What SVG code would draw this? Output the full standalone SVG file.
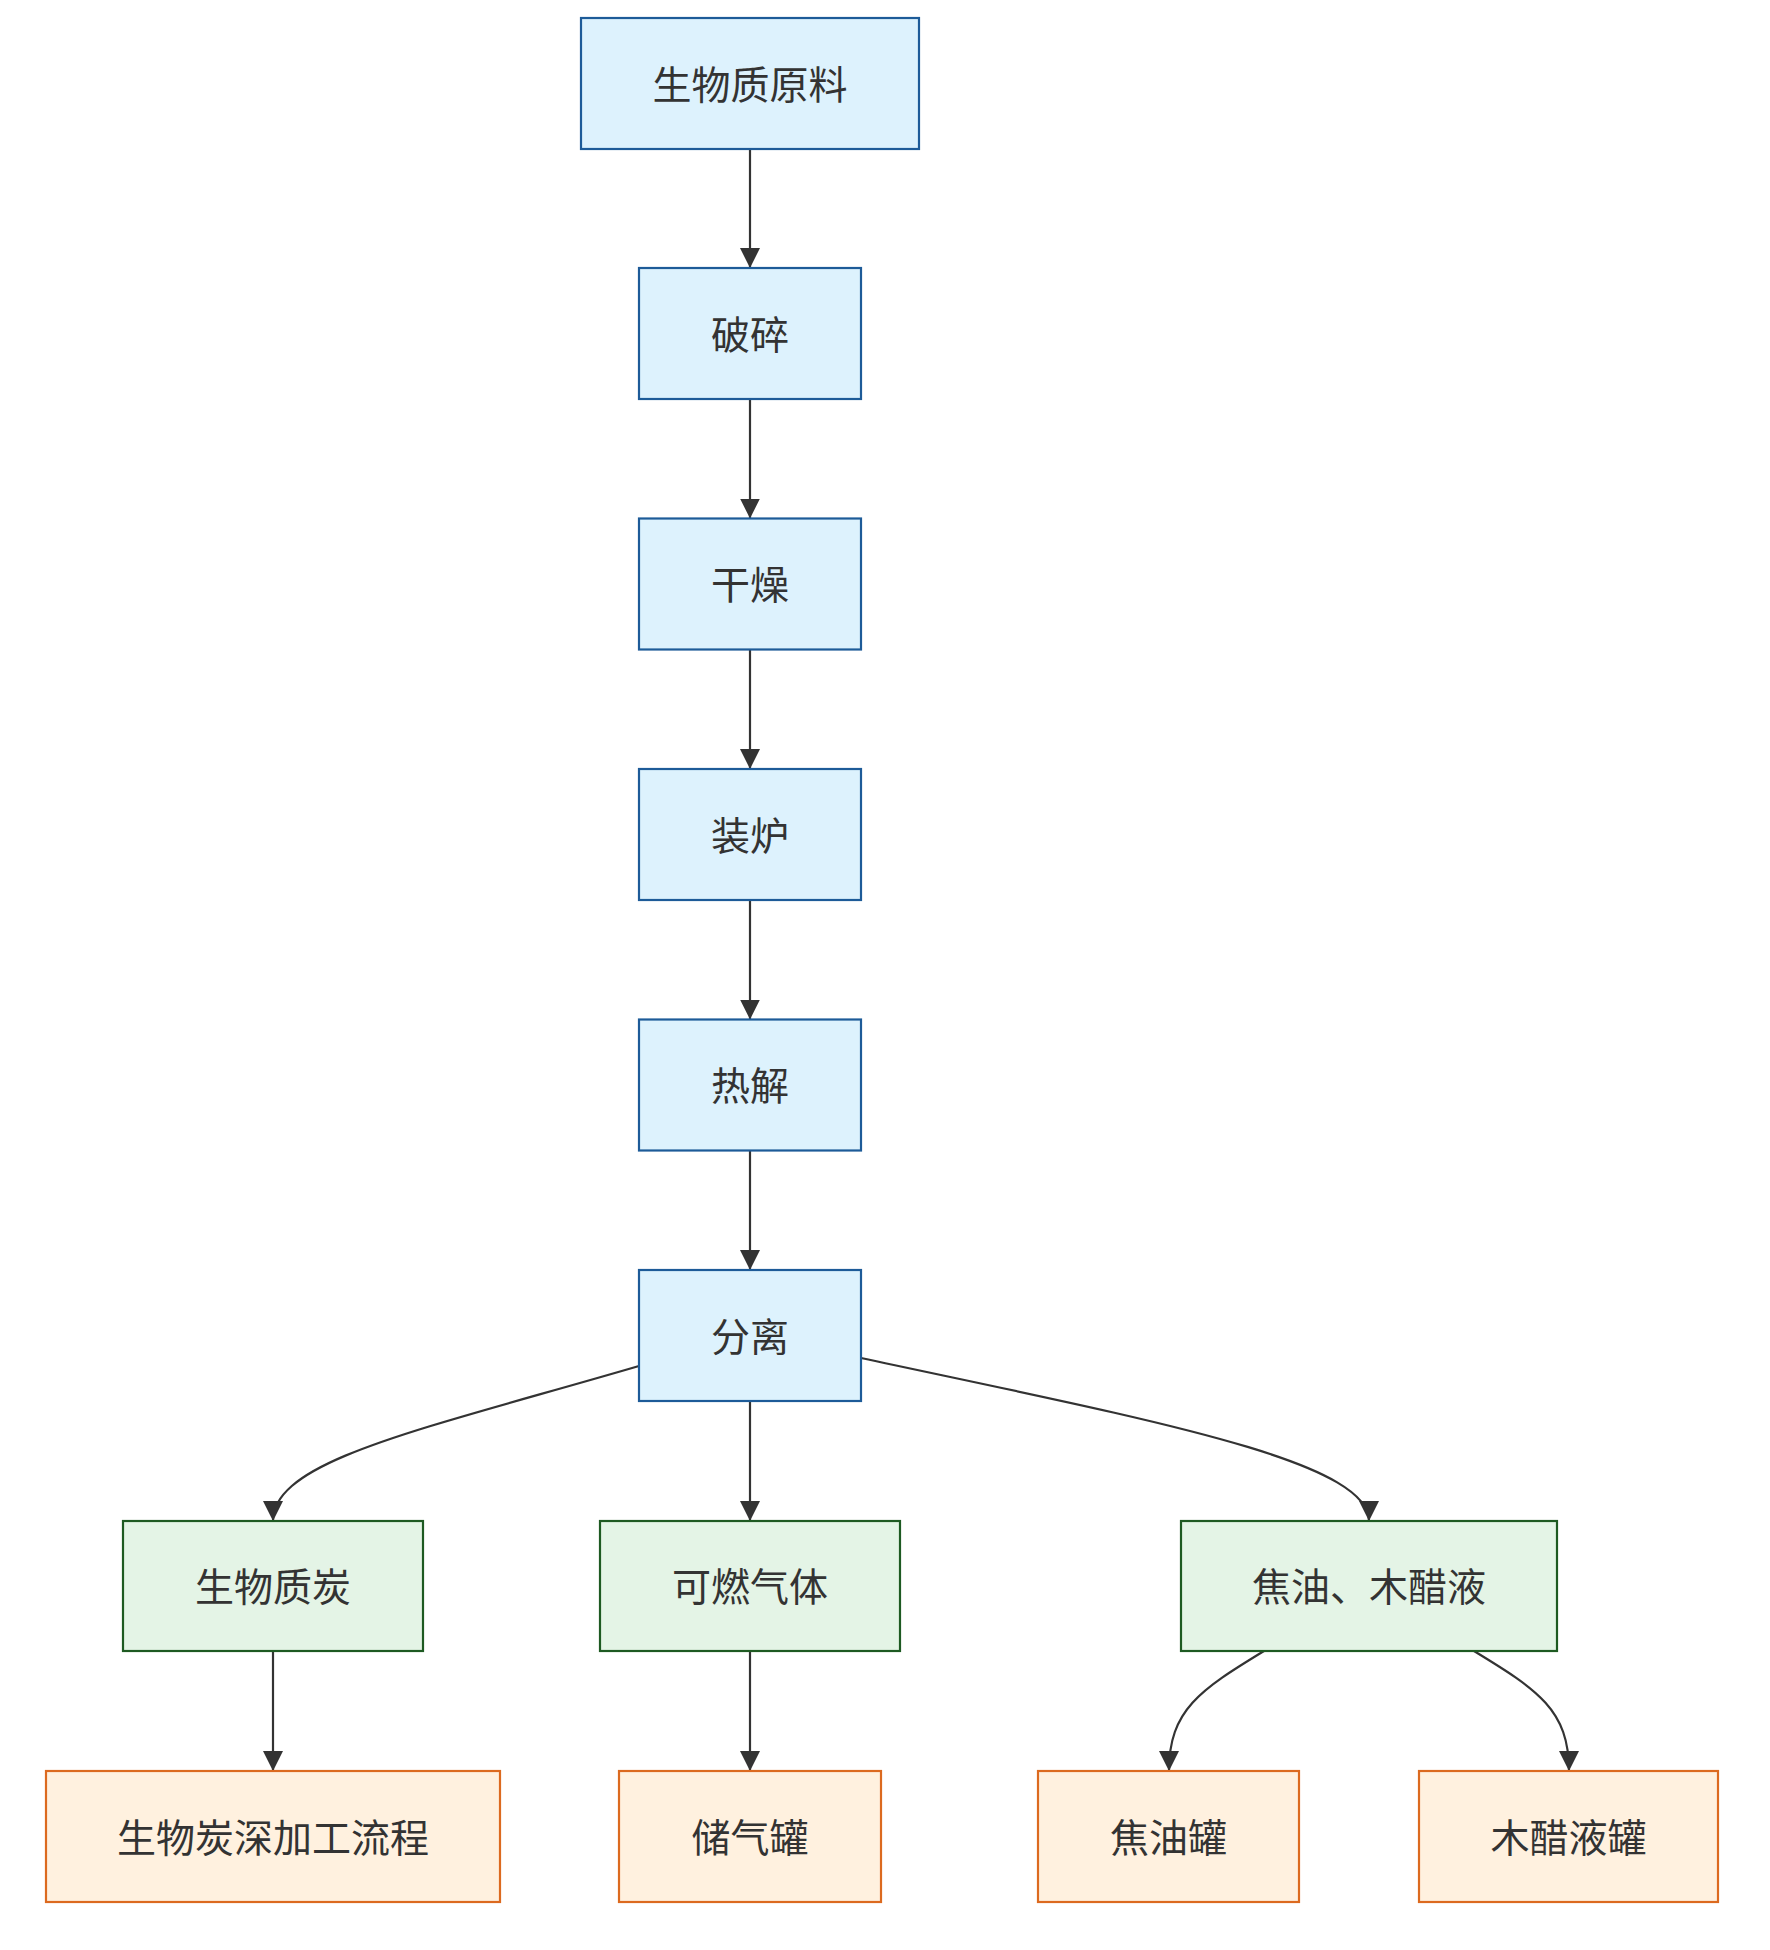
<svg xmlns="http://www.w3.org/2000/svg" width="1770" height="1950" viewBox="0 0 1770 1950">
<style>
.n rect{stroke-width:2.2}
.blue rect{fill:#ddf2fd;stroke:#1d5b98}
.green rect{fill:#e4f4e6;stroke:#1e5a22}
.orange rect{fill:#fff1df;stroke:#dc6a1f}
.n text{font-family:"Noto Sans CJK SC","Noto Sans",sans-serif;font-size:39px;fill:#333;text-anchor:middle;dominant-baseline:central}
.e path{fill:none;stroke:#333;stroke-width:2.2;marker-end:url(#arr)}
</style>
<defs>
<marker id="arr" markerUnits="userSpaceOnUse" markerWidth="20" markerHeight="20" viewBox="0 0 10 10" refX="10" refY="5" orient="auto">
<path d="M0,0 L10,5 L0,10 z" fill="#333"/>
</marker>
</defs>
<rect width="1770" height="1950" fill="#fff"/>
<g class="e" id="connectors">
<path d="M750,149 L750,268"/>
<path d="M750,399 L750,518.5"/>
<path d="M750,649.5 L750,769"/>
<path d="M750,900 L750,1019.5"/>
<path d="M750,1150.5 L750,1270"/>
<path d="M639,1366 C420,1430 273,1460 273,1521"/>
<path d="M750,1401 L750,1521"/>
<path d="M861,1358 C1150,1420 1369,1460 1369,1521"/>
<path d="M273,1651 L273,1771"/>
<path d="M750,1651 L750,1771"/>
<path d="M1264,1651 C1200,1690 1169,1710 1169,1771"/>
<path d="M1474,1651 C1538,1690 1569,1710 1569,1771"/>
</g>
<g id="n1" class="n blue"><rect x="581" y="18" width="338" height="131"/><text x="750" y="81.5">生物质原料</text></g>
<g id="n2" class="n blue"><rect x="639" y="268" width="222" height="131"/><text x="750" y="331.5">破碎</text></g>
<g id="n3" class="n blue"><rect x="639" y="518.5" width="222" height="131"/><text x="750" y="582">干燥</text></g>
<g id="n4" class="n blue"><rect x="639" y="769" width="222" height="131"/><text x="750" y="832.5">装炉</text></g>
<g id="n5" class="n blue"><rect x="639" y="1019.5" width="222" height="131"/><text x="750" y="1083">热解</text></g>
<g id="n6" class="n blue"><rect x="639" y="1270" width="222" height="131"/><text x="750" y="1333.5">分离</text></g>
<g id="n7" class="n green"><rect x="123" y="1521" width="300" height="130"/><text x="273" y="1584">生物质炭</text></g>
<g id="n8" class="n green"><rect x="600" y="1521" width="300" height="130"/><text x="750" y="1584">可燃气体</text></g>
<g id="n9" class="n green"><rect x="1181" y="1521" width="376" height="130"/><text x="1369" y="1584">焦油、木醋液</text></g>
<g id="n10" class="n orange"><rect x="46" y="1771" width="454" height="131"/><text x="273" y="1834.5">生物炭深加工流程</text></g>
<g id="n11" class="n orange"><rect x="619" y="1771" width="262" height="131"/><text x="750" y="1834.5">储气罐</text></g>
<g id="n12" class="n orange"><rect x="1038" y="1771" width="261" height="131"/><text x="1168.5" y="1834.5">焦油罐</text></g>
<g id="n13" class="n orange"><rect x="1419" y="1771" width="299" height="131"/><text x="1568.5" y="1834.5">木醋液罐</text></g>
</svg>
